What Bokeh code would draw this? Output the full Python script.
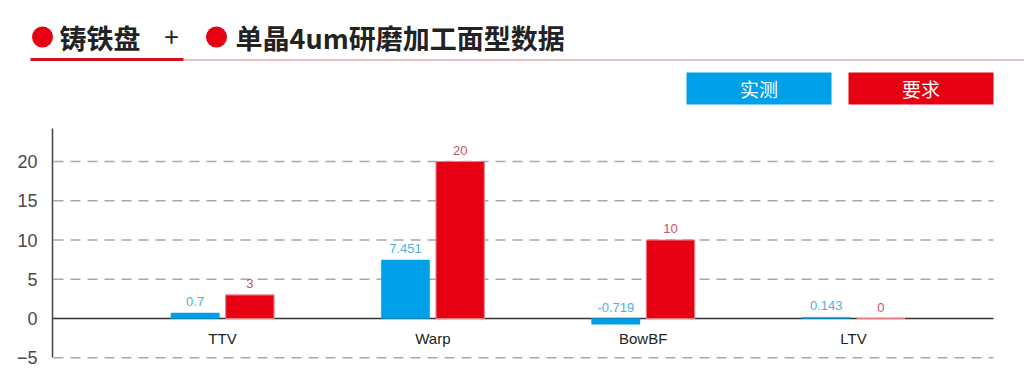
from bokeh.plotting import figure
from bokeh.models import Range1d, FixedTicker, LinearAxis
from bokeh.core.properties import value
from bokeh.embed import file_html
from bokeh.resources import INLINE

# ---- data ----
categories = ["TTV", "Warp", "BowBF", "LTV"]
series = ["实测", "要求"]
measured = [0.7, 7.451, -0.719, 0.143]
required = [3, 20, 10, 0]
measured_labels = ["0.7", "7.451", "-0.719", "0.143"]
required_labels = ["3", "20", "10", "0"]
y_ticks = [-5, 0, 5, 10, 15, 20]
y_tick_labels = {-5: "−5", 0: "0", 5: "5", 10: "10", 15: "15", 20: "20"}
title_left = "铸铁盘"
title_plus = "+"
title_right = "单晶4um研磨加工面型数据"

BLUE = "#00a0e9"
RED = "#e60012"

W, H = 1024, 390
PX_X = 210.33
PX_Y = 7.85
def X(s):
    return (s - 222) / PX_X
def Y(s):
    return (318 - s) / PX_Y

p = figure(width=W, height=H, output_backend="svg", toolbar_location=None,
           x_range=Range1d(X(0), X(W)), y_range=Range1d(Y(H), Y(0)),
           x_axis_location=None, y_axis_location=None, min_border=0)
p.outline_line_color = None
p.grid.visible = False

ax = LinearAxis(fixed_location=X(52))
ax.ticker = FixedTicker(ticks=y_ticks)
ax.major_label_overrides = y_tick_labels
ax.bounds = (-5, Y(128))
ax.major_tick_line_color = None
ax.minor_tick_line_color = None
ax.axis_line_color = "#444444"
ax.axis_line_width = 1.5
ax.major_label_standoff = 9
ax.major_label_text_font = "Liberation Sans"
ax.major_label_text_font_size = "18px"
ax.major_label_text_color = "#4a4a4a"
p.add_layout(ax, "left")

# dashed horizontal grid lines (at the non-zero ticks)
grid_vals = [v for v in y_ticks if v != 0]
p.segment(x0=[X(53)] * len(grid_vals), y0=grid_vals, x1=[X(993)] * len(grid_vals), y1=grid_vals,
          line_color="#a8a8a8", line_width=1.6, line_dash="10 7")

# zero line
p.segment(x0=[X(52)], y0=[0], x1=[X(993)], y1=[0], line_color="#333333", line_width=1.5)

idx = list(range(len(categories)))
off, bw = 0.13, 0.23
p.vbar(x=[i - off for i in idx], top=measured, bottom=0, width=bw,
       fill_color=BLUE, line_color=BLUE, line_width=0.5)
p.vbar(x=[i + off for i in idx], top=required, bottom=0, width=bw,
       fill_color=RED, line_color="#e8808a", line_width=1.2)

p.text(x=[i - off for i in idx], y=[max(v, 0) for v in measured], text=measured_labels,
       text_align="center", text_baseline="bottom", y_offset=-7,
       text_font=value("Liberation Sans"), text_font_size="13px", text_color="#4fb0e4")
p.text(x=[i + off for i in idx], y=[max(v, 0) for v in required], text=required_labels,
       text_align="center", text_baseline="bottom", y_offset=-7,
       text_font=value("Liberation Sans"), text_font_size="13px", text_color="#c8506a")

p.text(x=idx, y=[0] * len(idx), text=categories, text_align="center", text_baseline="middle",
       y_offset=20, text_font=value("Liberation Sans"), text_font_size="15px", text_color="#222222")

# legend boxes
p.quad(left=[X(686), X(848)], right=[X(831), X(993)], top=[Y(72)] * 2, bottom=[Y(104)] * 2,
       fill_color=[BLUE, RED], line_color=None)
p.text(x=[X(758.5), X(920.5)], y=[Y(88)] * 2, text=series, text_align="center",
       text_baseline="middle", text_font=value("Noto Sans CJK SC"), text_font_size="19px",
       text_color="white")

# title
p.scatter(x=[X(42), X(216)], y=[Y(36.5)] * 2, size=21, fill_color=RED, line_color=None)
p.text(x=[X(59)], y=[Y(37)], text=[title_left], text_align="left", text_baseline="middle",
       text_font=value("Noto Sans CJK SC"), text_font_size="27px", text_font_style="bold",
       text_color="#222222")
p.text(x=[X(171)], y=[Y(37)], text=[title_plus], text_align="center", text_baseline="middle",
       text_font=value("Noto Sans CJK SC"), text_font_size="26px", text_color="#222222")
p.text(x=[X(235)], y=[Y(37)], text=[title_right], text_align="left", text_baseline="middle",
       text_font=value("Noto Sans CJK SC"), text_font_size="27px", text_font_style="bold",
       text_color="#222222")
p.segment(x0=[X(183)], y0=[Y(59.5)], x1=[X(W)], y1=[Y(59.5)], line_color="#d9848e", line_width=1)
p.segment(x0=[X(30)], y0=[Y(59)], x1=[X(183)], y1=[Y(59)], line_color="#d0101c", line_width=3)

open("out.html", "w").write(file_html(p, INLINE))
